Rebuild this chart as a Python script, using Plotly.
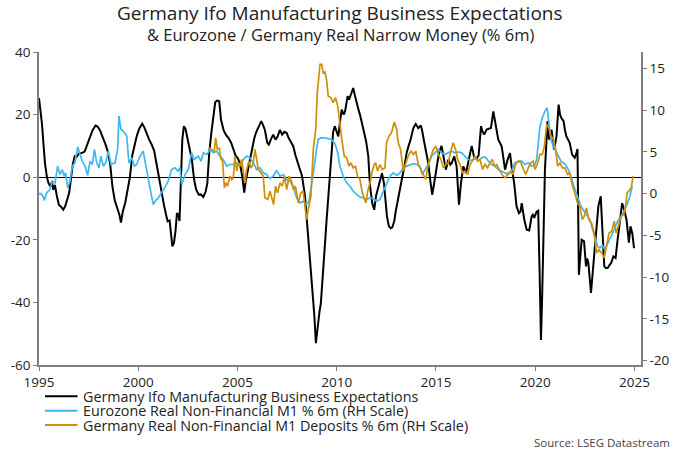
import plotly.graph_objects as go

# ---------------- data ----------------
ifo_x = [1995.00,1995.08,1995.15,1995.22,1995.30,1995.40,1995.48,1995.58,1995.65,1995.72,1995.80,1995.90,
         1996.00,1996.12,1996.22,1996.32,1996.42,1996.52,1996.62,1996.70,1996.80,1996.90,
         1997.00,1997.15,1997.30,1997.45,1997.57,1997.70,1997.85,1997.95,
         1998.07,1998.20,1998.35,1998.45,1998.58,1998.70,1998.82,1998.95,
         1999.05,1999.13,1999.22,1999.35,1999.45,1999.58,1999.70,1999.80,1999.92,
         2000.05,2000.20,2000.30,2000.42,2000.55,2000.68,2000.80,2000.90,
         2001.00,2001.10,2001.20,2001.30,2001.40,2001.48,2001.58,2001.65,2001.72,2001.80,2001.88,2001.95,
         2002.02,2002.08,2002.15,2002.22,2002.30,2002.38,2002.46,2002.58,2002.70,2002.82,2002.92,
         2003.05,2003.15,2003.28,2003.40,2003.48,2003.58,2003.68,2003.78,2003.88,2003.98,
         2004.08,2004.17,2004.30,2004.42,2004.55,2004.68,2004.80,2004.90,
         2005.02,2005.12,2005.24,2005.34,2005.42,2005.52,2005.64,2005.72,2005.85,2005.95,
         2006.08,2006.20,2006.30,2006.38,2006.50,2006.58,2006.68,2006.80,2006.92,
         2007.02,2007.14,2007.25,2007.36,2007.48,2007.58,2007.68,2007.81,2007.92,
         2008.00,2008.15,2008.25,2008.31,2008.40,2008.48,2008.58,2008.65,2008.78,2008.87,2008.95,
         2009.05,2009.13,2009.20,2009.32,2009.40,2009.49,2009.58,2009.66,2009.75,2009.82,2009.90,
         2010.00,2010.08,2010.17,2010.25,2010.35,2010.42,2010.55,2010.62,2010.72,2010.83,2010.92,
         2011.00,2011.10,2011.17,2011.28,2011.38,2011.48,2011.59,2011.68,2011.79,2011.89,2011.98,
         2012.06,2012.13,2012.22,2012.28,2012.38,2012.46,2012.53,2012.63,2012.72,2012.80,2012.90,2012.97,
         2013.05,2013.19,2013.30,2013.40,2013.52,2013.62,2013.72,2013.86,2013.98,
         2014.05,2014.11,2014.24,2014.30,2014.40,2014.48,2014.61,2014.73,2014.81,2014.91,
         2015.03,2015.15,2015.28,2015.40,2015.50,2015.62,2015.72,2015.79,2015.92,
         2016.04,2016.16,2016.26,2016.38,2016.51,2016.63,2016.72,2016.80,2016.93,
         2017.05,2017.15,2017.27,2017.35,2017.43,2017.55,2017.68,2017.77,2017.89,2017.97,
         2018.05,2018.14,2018.22,2018.31,2018.40,2018.48,2018.61,2018.73,2018.81,2018.94,
         2019.06,2019.18,2019.26,2019.32,2019.45,2019.57,2019.70,2019.82,2019.88,2019.95,
         2020.07,2020.15,2020.22,2020.29,2020.35,2020.40,2020.49,2020.58,2020.62,2020.70,2020.77,2020.82,2020.95,
         2021.07,2021.18,2021.25,2021.32,2021.43,2021.50,2021.57,2021.66,2021.74,2021.86,2021.99,
         2022.07,2022.13,2022.20,2022.27,2022.34,2022.46,2022.56,2022.62,2022.68,2022.81,2022.93,
         2023.06,2023.18,2023.30,2023.38,2023.48,2023.56,2023.65,2023.75,2023.82,2023.94,
         2024.05,2024.15,2024.27,2024.38,2024.48,2024.60,2024.72,2024.80,2024.89,2024.98]
ifo_y = [25.3,21,17,11,4.5,0,-1.9,-3,-1.5,-4,-2.5,-6,
         -8.8,-9.5,-10.4,-9.3,-7.5,-5,0,4,6.7,6.5,
         7.5,7.7,8.2,11,13,15,16.5,16.2,
         15,13,10.5,8.5,4.5,-3,-7.5,-10,
         -12,-14.5,-11,-8,-5,0,7,10,13,
         15.5,17.1,16,14,12,10.4,8.5,5,
         1.3,-2,-5,-9,-12,-14.1,-13.8,-18,-22.1,-21,-17,-11.5,
         -12,-14,0,12,16.3,15.5,13,9,5.6,-1,-4,
         -5.6,-5.5,-6.3,-4.5,-2,8,14,19.5,24,24.5,
         24.3,18.4,15,13.5,12.5,11,9,7,
         6,4.5,0.3,-4.9,-1,2.4,6,8.8,12.5,14.5,
         16.5,17.9,16.5,15.1,11,10.4,12,13.6,12,
         13,15.1,13.6,14.5,14.1,12.5,11.5,9.9,7,
         5.6,2.4,0.5,-1.9,-6,-12.5,-20,-25.3,-36,-44,-53,
         -46,-43,-40.3,-30.7,-22,-13.6,-5,2.4,10,14.5,16.3,
         14,13,18,21.6,20,21,25.9,24.8,26.5,28.5,26,
         23.7,21.5,20,17,13.5,11.5,6.7,-2.9,-8.3,-10.4,-6,
         -4,-3,0,1.3,-1.9,-7,-12.5,-15.7,-16.3,-16,-14,-11,
         -8,-3,0,3,7.7,10,12,15.7,17,
         16.3,15.7,16.5,15,11.5,8.8,4.5,-1.9,-5.6,-1.9,
         3.5,7.7,10,5.6,2.4,5.6,4,4.5,6.7,
         3.5,-8.8,-1.9,3.5,1.3,4.5,7,10,6.2,
         6,7,16.3,14.5,13.6,15.2,15.5,15.7,21,18.4,
         15,12,11,9.9,6,2.4,5.6,7.7,3.5,-1.9,
         -9.3,-11.5,-11,-8.3,-13.6,-16.8,-17,-12.5,-12,-13,
         -11,-10.7,-30,-52,-38,-20,2.4,13,17.9,12,13.5,15.2,8.8,
         13,23.2,20,18.9,17.9,15,13,12,10.9,7.2,6.2,
         7.5,9,-31.2,-24,-20,-20.5,-28.5,-26,-27.5,-37,-28.5,
         -17.9,-9.3,-6.1,-15,-28.5,-29,-29,-28,-27.5,-25.3,
         -25.8,-20,-13.6,-8.3,-10.4,-13.6,-20.9,-15.7,-17.9,-22.7]

ez_x = [1995.00,1995.10,1995.20,1995.27,1995.39,1995.55,1995.67,1995.81,1995.94,
        1996.06,1996.17,1996.27,1996.34,1996.45,1996.56,1996.68,1996.81,1996.95,
        1997.07,1997.18,1997.32,1997.45,1997.57,1997.69,1997.79,1997.91,
        1998.02,1998.12,1998.24,1998.36,1998.49,1998.63,1998.83,1998.96,
        1999.03,1999.13,1999.25,1999.42,1999.53,1999.67,1999.80,1999.92,
        2000.09,2000.25,2000.39,2000.50,2000.64,2000.76,2000.88,
        2001.01,2001.18,2001.38,2001.51,2001.68,2001.85,2001.99,
        2002.10,2002.19,2002.36,2002.52,2002.69,2002.82,
        2003.02,2003.16,2003.28,2003.45,2003.62,2003.78,2003.95,
        2004.12,2004.28,2004.45,2004.62,2004.79,2004.96,
        2005.13,2005.29,2005.46,2005.63,2005.80,2005.96,
        2006.13,2006.30,2006.47,2006.64,2006.80,2006.97,
        2007.14,2007.31,2007.48,2007.64,2007.81,2007.98,
        2008.15,2008.31,2008.48,2008.60,2008.73,2008.87,2008.98,
        2009.07,2009.20,2009.40,2009.57,2009.74,2009.91,
        2010.05,2010.16,2010.33,2010.50,2010.67,2010.83,
        2011.00,2011.17,2011.34,2011.51,2011.68,2011.85,
        2012.01,2012.18,2012.35,2012.51,2012.68,2012.85,
        2013.02,2013.19,2013.35,2013.52,2013.69,2013.86,
        2014.03,2014.19,2014.31,2014.45,2014.61,2014.78,2014.95,
        2015.12,2015.28,2015.45,2015.62,2015.79,2015.96,
        2016.12,2016.29,2016.46,2016.63,2016.80,2016.96,
        2017.13,2017.30,2017.47,2017.63,2017.80,2017.97,
        2018.14,2018.31,2018.48,2018.64,2018.81,2018.98,
        2019.15,2019.32,2019.48,2019.65,2019.82,2019.99,
        2020.07,2020.15,2020.24,2020.36,2020.49,2020.60,2020.69,2020.79,2020.91,
        2021.03,2021.16,2021.30,2021.41,2021.53,2021.67,2021.80,2021.92,
        2022.04,2022.17,2022.30,2022.41,2022.58,2022.75,2022.87,
        2023.00,2023.14,2023.26,2023.38,2023.51,2023.65,2023.82,2023.98,
        2024.15,2024.32,2024.48,2024.66,2024.77,2024.89]
ez_y = [0,0,-0.3,-0.8,0.1,0.5,1.5,1.3,3.3,
        2.3,2.9,2.1,2.5,0.7,1.5,3.3,3.7,5.6,
        4.7,3.9,3.3,2.2,3.9,3.5,5.3,3.7,
        3.1,4.5,3.3,3.7,5.1,3.5,3.7,5.3,
        9.3,7.7,7.5,6.9,3.7,4.3,3.3,3.5,
        4.5,5.1,3.3,1.7,0.1,-1.3,-0.8,
        -0.5,0.1,0.9,1.5,2.9,3.1,2.7,
        3.1,1.1,2.3,2.9,4.9,4.1,
        4.5,3.9,4.9,4.7,5.3,4.9,5.1,
        4.5,4.1,3.3,3.5,3.5,3.7,
        3.5,4.1,4.5,4.3,3.7,2.9,
        3.1,2.5,2.3,1.8,2.1,2.8,
        2.1,2.3,1.7,1.5,0.9,-0.5,
        -1.1,-0.9,-1.3,-0.9,0.9,3.3,5.3,
        6.5,6.7,6.7,6.6,6.5,6.0,
        4.9,3.3,2.1,1.3,0.9,0.3,
        0,-0.4,-0.5,-0.7,-0.5,-0.6,
        -0.9,-0.7,0.3,1.1,2.1,2.5,
        2.2,2.5,3.1,3.3,3.5,3.6,
        3.5,3.3,2.3,2.9,3.5,4.5,4.9,
        5.3,4.9,4.7,4.9,5.1,4.9,
        5.0,4.9,4.5,4.1,4.0,4.2,
        4.0,4.3,4.4,3.9,3.5,3.3,
        2.9,2.7,2.5,2.3,2.7,3.7,
        3.9,3.9,3.5,3.7,3.3,3.5,
        4.1,6.5,8.1,9.1,9.9,10.3,8.1,6.5,5.7,
        5.1,4.5,3.9,3.7,3.5,2.9,2.1,1.1,
        0.3,-0.7,-1.5,-1.9,-2.5,-3.1,-4.1,
        -5.1,-6.3,-6.5,-6.2,-6.7,-5.9,-5.1,-4.3,
        -3.3,-2.7,-2.1,-1.1,-0.3,0.9]

de_x = [2003.56,2003.70,2003.83,2003.90,2003.98,
        2004.08,2004.17,2004.25,2004.34,2004.42,2004.50,2004.62,2004.71,2004.79,2004.87,2004.96,
        2005.04,2005.12,2005.21,2005.29,2005.38,2005.46,2005.58,2005.68,2005.78,2005.88,2005.96,
        2006.05,2006.18,2006.30,2006.38,2006.52,2006.64,2006.74,2006.82,2006.92,
        2007.02,2007.14,2007.26,2007.36,2007.48,2007.60,2007.70,2007.81,2007.92,
        2008.06,2008.20,2008.31,2008.40,2008.48,2008.60,2008.70,2008.82,2008.94,
        2009.02,2009.16,2009.24,2009.32,2009.41,2009.49,2009.57,2009.71,2009.82,2009.94,
        2010.05,2010.16,2010.28,2010.38,2010.50,2010.62,2010.72,2010.83,2010.94,
        2011.05,2011.17,2011.29,2011.39,2011.47,2011.56,2011.68,2011.79,2011.89,2011.96,
        2012.06,2012.18,2012.29,2012.43,2012.51,2012.63,2012.76,2012.90,
        2013.02,2013.10,2013.22,2013.35,2013.47,2013.60,2013.74,2013.86,2013.98,
        2014.11,2014.24,2014.36,2014.48,2014.61,2014.75,2014.87,
        2015.00,2015.12,2015.25,2015.37,2015.50,2015.62,2015.75,2015.87,2015.99,
        2016.09,2016.21,2016.34,2016.46,2016.60,2016.71,2016.83,2016.96,
        2017.10,2017.22,2017.35,2017.47,2017.60,2017.72,2017.84,2017.95,
        2018.06,2018.22,2018.39,2018.51,2018.64,2018.78,2018.89,
        2019.01,2019.15,2019.28,2019.40,2019.52,2019.65,2019.78,2019.90,2019.99,
        2020.10,2020.24,2020.36,2020.46,2020.58,2020.69,2020.79,2020.91,
        2021.03,2021.13,2021.25,2021.37,2021.50,2021.63,2021.74,2021.86,2021.99,
        2022.13,2022.25,2022.37,2022.47,2022.58,2022.70,2022.84,2022.97,
        2023.09,2023.21,2023.35,2023.48,2023.60,2023.72,2023.86,2023.98,
        2024.08,2024.20,2024.34,2024.46,2024.55,2024.63,2024.75,2024.84,2024.93]
de_y = [5.5,5.3,5.1,6.7,5.3,
        5.5,4.1,3.9,0.7,1.3,0.9,2.1,1.7,1.9,4.5,2.7,
        3.7,3.3,4.1,2.7,1.3,2.9,3.9,3.1,3.5,5.3,4.1,
        2.9,2.5,2.1,-0.5,-0.7,0.3,-0.7,-1.3,0.9,
        0.1,1.3,0.9,2.1,0.5,2.1,1.7,0.5,0.9,
        -1.1,0.1,0.3,-1.5,-3.1,-1.5,-0.3,5.3,7.7,
        12.1,15.5,15.5,14.5,14.6,13.6,11.7,11.5,10.9,11.5,
        10.5,8.1,6.1,4.5,4.3,3.3,3.7,3.1,3.3,
        2.1,1.7,0.1,-0.7,-1.1,0.3,1.3,2.7,3.5,3.7,
        2.7,3.5,2.9,3.1,6.1,6.9,7.3,8.6,
        7.7,6.1,5.3,2.7,3.5,4.5,5.1,4.7,5.1,
        3.5,2.9,2.3,1.7,3.5,4.5,5.3,
        5.7,4.7,4.1,3.1,3.5,3.7,5.1,6.1,5.3,
        4.1,3.5,2.5,2.7,2.3,3.5,3.9,4.5,
        3.9,4.1,2.9,3.5,3.1,3.7,4.1,3.3,
        3.5,2.7,2.1,1.9,2.5,2.7,2.3,
        3.5,3.9,3.7,3.1,2.3,3.1,3.7,3.9,2.9,
        3.5,4.7,4.7,5.7,8.3,7.9,6.9,6.5,
        5.3,3.3,3.7,3.1,3.1,2.3,2.5,1.1,0.1,
        -1.1,-1.5,-3.1,-2.7,-1.7,-3.1,-3.5,-4.7,
        -7.1,-6.7,-7.1,-7.7,-6.3,-4.7,-4.5,-3.3,
        -4.7,-3.7,-2.7,-2.5,-1.5,0.1,0.5,0.7,2.1]

x_ticks = [1995, 2000, 2005, 2010, 2015, 2020, 2025]
left_ticks = [-60, -40, -20, 0, 20, 40]
right_ticks = [-20, -15, -10, -5, 0, 5, 10, 15]

names = ["Germany Ifo Manufacturing Business Expectations",
         "Eurozone Real Non-Financial M1 % 6m (RH Scale)",
         "Germany Real Non-Financial M1 Deposits % 6m (RH Scale)"]
colors = ["#000000", "#3DB8F0", "#CF8F0A"]

# ---------------- figure ----------------
FONT = "Open Sans"
TXT = "#222222"
AX = "#7f7f7f"

fig = go.Figure()
fig.add_trace(go.Scatter(x=ifo_x, y=ifo_y, mode="lines", name=names[0],
                         line=dict(color=colors[0], width=2), yaxis="y"))
fig.add_trace(go.Scatter(x=ez_x, y=ez_y, mode="lines", name=names[1],
                         line=dict(color=colors[1], width=1.7), yaxis="y2"))
fig.add_trace(go.Scatter(x=de_x, y=de_y, mode="lines", name=names[2],
                         line=dict(color=colors[2], width=1.7), yaxis="y2"))

tickfont = dict(family=FONT, size=13.5, color=TXT)

# legend drawn as line samples + text under the plot (tight row spacing as in the reference)
legend_rows_y = [-0.100, -0.146, -0.192]
shapes = []
annotations = []
for nm, col, yy in zip(names, colors, legend_rows_y):
    shapes.append(dict(type="line", xref="paper", yref="paper", x0=0.010, x1=0.064, y0=yy, y1=yy,
                       line=dict(color=col, width=2)))
    annotations.append(dict(text=nm, xref="paper", yref="paper", x=0.071, y=yy,
                            xanchor="left", yanchor="middle", showarrow=False, borderpad=0,
                            font=dict(family=FONT, size=14.3, color=TXT)))

annotations += [
    dict(text="Germany Ifo Manufacturing Business Expectations", xref="paper", yref="paper",
         x=0.5, y=1.0, xanchor="center", yanchor="middle", yshift=39, showarrow=False,
         font=dict(family=FONT, size=19, color=TXT)),
    dict(text="& Eurozone / Germany Real Narrow Money (% 6m)", xref="paper", yref="paper",
         x=0.5, y=1.0, xanchor="center", yanchor="middle", yshift=18, showarrow=False,
         font=dict(family=FONT, size=16.5, color=TXT)),
    dict(text="Source: LSEG Datastream", xref="paper", yref="paper",
         x=1.0, y=0, xanchor="right", yanchor="middle", xshift=31, yshift=-77, showarrow=False,
         font=dict(family=FONT, size=11.5, color="#444444")),
]

fig.update_layout(
    width=680, height=453,
    margin=dict(l=39, r=39, t=52, b=88, autoexpand=False),
    paper_bgcolor="white", plot_bgcolor="white",
    font=dict(family=FONT, size=13, color=TXT),
    showlegend=False,
    xaxis=dict(range=[1995, 2025.33], tickvals=x_ticks, ticktext=[str(t) for t in x_ticks],
               showgrid=False, zeroline=False, showline=True, linecolor=AX, linewidth=1.5,
               ticks="outside", ticklen=4, tickcolor=AX, tickwidth=1.2, automargin=False,
               tickfont=tickfont),
    yaxis=dict(range=[-60, 40], tickvals=left_ticks, ticktext=[str(t) for t in left_ticks],
               showgrid=False, zeroline=True, zerolinecolor="#000000", zerolinewidth=1.2,
               showline=True, linecolor=AX, linewidth=1.5, automargin=False,
               ticks="outside", ticklen=4, tickcolor=AX, tickwidth=1.2,
               tickfont=tickfont),
    yaxis2=dict(range=[-20.53, 16.98], tickvals=right_ticks, ticktext=[str(t) for t in right_ticks],
                overlaying="y", side="right", showgrid=False, zeroline=False, automargin=False,
                showline=True, linecolor=AX, linewidth=1.5,
                ticks="outside", ticklen=4, tickcolor=AX, tickwidth=1.2,
                tickfont=tickfont),
    shapes=shapes,
    annotations=annotations,
)

fig.write_html("out.html", config={"displayModeBar": False},
               post_script="document.body.style.margin='0';document.body.style.padding='0';")
